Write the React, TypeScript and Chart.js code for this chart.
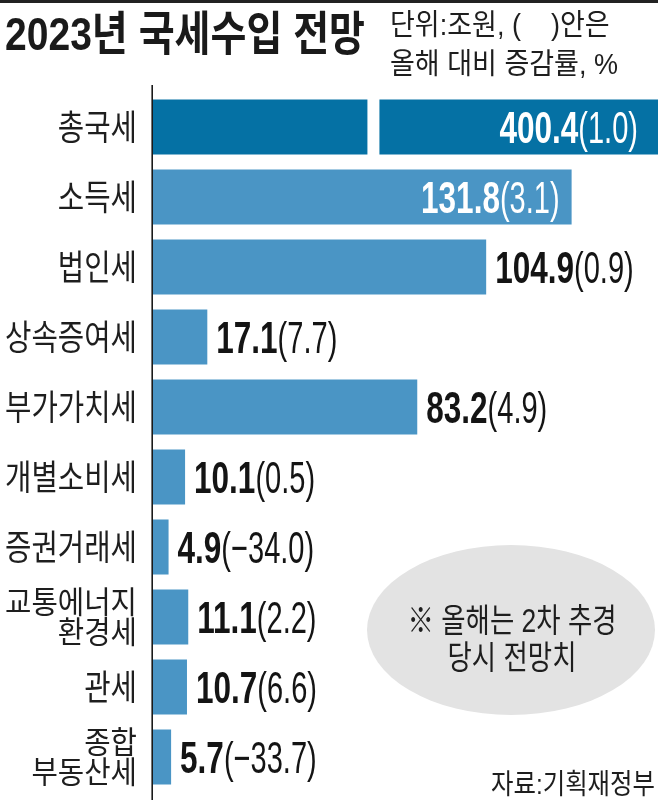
import React, { useEffect, useRef } from "react";
import { Chart, registerables } from "chart.js";

Chart.register(...registerables);

// ---- data ----
const categories: (string | string[])[] = [
  "총국세",
  "소득세",
  "법인세",
  "상속증여세",
  "부가가치세",
  "개별소비세",
  "증권거래세",
  ["교통에너지", "환경세"],
  "관세",
  ["종합", "부동산세"],
];
const values = [400.4, 131.8, 104.9, 17.1, 83.2, 10.1, 4.9, 11.1, 10.7, 5.7];
const changes = [1.0, 3.1, 0.9, 7.7, 4.9, 0.5, -34.0, 2.2, 6.6, -33.7];
const axisMax = 159;
const breakValue = 69.4; // where the (off-scale) total bar is visually broken

const TITLE = "2023년 국세수입 전망";
const UNIT_LINES = ["단위:조원, (    )안은", "올해 대비 증감률, %"];
const NOTE_LINES = ["※ 올해는 2차 추경", "당시 전망치"];
const SOURCE = "자료:기획재정부";

const KR = '"Noto Sans CJK KR", "Noto Sans CJK SC", sans-serif';
const LAT = '"Liberation Sans", Arial';

function measure(ctx: CanvasRenderingContext2D, text: string, font: string) {
  ctx.save();
  ctx.font = font;
  const w = ctx.measureText(text).width;
  ctx.restore();
  return w;
}

function drawScaled(
  ctx: CanvasRenderingContext2D,
  text: string,
  x: number,
  y: number,
  font: string,
  sx: number,
  align: "left" | "right" | "center",
  color: string,
  baseline: CanvasTextBaseline = "alphabetic"
) {
  ctx.save();
  ctx.font = font;
  ctx.fillStyle = color;
  ctx.textAlign = "left";
  ctx.textBaseline = baseline;
  const w = ctx.measureText(text).width * sx;
  const left = align === "left" ? x : align === "right" ? x - w : x - w / 2;
  ctx.translate(left, y);
  ctx.scale(sx, 1);
  ctx.fillText(text, 0, 0);
  ctx.restore();
  return w;
}

const decor = {
  id: "decor",
  beforeDraw(chart: any) {
    const ctx: CanvasRenderingContext2D = chart.ctx;
    ctx.save();
    ctx.fillStyle = "#ffffff";
    ctx.fillRect(0, 0, chart.width, chart.height);
    ctx.fillStyle = "#222222";
    ctx.fillRect(0, 0, chart.width, 3);
    // note ellipse
    ctx.fillStyle = "#e3e3e3";
    ctx.beginPath();
    ctx.ellipse(511, 630, 144, 85, 0, 0, Math.PI * 2);
    ctx.fill();
    ctx.restore();

    // title
    const tFont = `bold 47px ${LAT}, ${KR}`;
    const tScale = 360 / measure(ctx, TITLE, tFont);
    drawScaled(ctx, TITLE, 5, 50, tFont, tScale, "left", "#1a1a1a");

    // unit text
    const uFont = `29px ${LAT}, ${KR}`;
    const uScale = 228 / measure(ctx, UNIT_LINES[1], uFont);
    drawScaled(ctx, UNIT_LINES[0], 390, 35, uFont, uScale, "left", "#1e1e1e");
    drawScaled(ctx, UNIT_LINES[1], 390, 74, uFont, uScale, "left", "#1e1e1e");

    // note text
    const nFont = `33px ${LAT}, ${KR}`;
    const nScale = 209 / measure(ctx, NOTE_LINES[0], nFont);
    drawScaled(ctx, NOTE_LINES[0], 512, 632, nFont, nScale, "center", "#1e1e1e");
    drawScaled(ctx, NOTE_LINES[1], 512, 669, nFont, nScale, "center", "#1e1e1e");

    // source
    const sFont = `28px ${LAT}, ${KR}`;
    const sScale = 164 / measure(ctx, SOURCE, sFont);
    drawScaled(ctx, SOURCE, 655, 794, sFont, sScale, "right", "#1e1e1e");
  },
  afterDatasetsDraw(chart: any) {
    const ctx: CanvasRenderingContext2D = chart.ctx;
    const area = chart.chartArea;
    const xs = chart.scales.x;
    const ys = chart.scales.y;
    const meta = chart.getDatasetMeta(0);

    // break in the off-scale bar
    meta.data.forEach((bar: any, i: number) => {
      if (values[i] > axisMax) {
        const xb = xs.getPixelForValue(breakValue);
        ctx.save();
        ctx.fillStyle = "#ffffff";
        ctx.fillRect(xb - 6, bar.y - bar.height / 2 - 1, 12, bar.height + 2);
        ctx.restore();
      }
    });

    // axis line
    ctx.save();
    ctx.strokeStyle = "#1a1a1a";
    ctx.lineWidth = 1.6;
    ctx.beginPath();
    ctx.moveTo(area.left - 0.8, 85);
    ctx.lineTo(area.left - 0.8, chart.height);
    ctx.stroke();
    ctx.restore();

    // category labels
    const cFont1 = `35px ${KR}`;
    const cFont2 = `31px ${KR}`;
    const s1 = 132 / measure(ctx, "상속증여세", cFont1);
    const s2 = 132 / measure(ctx, "교통에너지", cFont2);
    categories.forEach((c, i) => {
      const yc = ys.getPixelForValue(i);
      const lines = Array.isArray(c) ? c : [c];
      if (lines.length === 1) {
        drawScaled(ctx, lines[0], 137, yc, cFont1, s1, "right", "#1e1e1e", "middle");
      } else {
        const lh = 29.5;
        lines.forEach((ln, k) => {
          const y = yc - 1 + (k - (lines.length - 1) / 2) * lh;
          drawScaled(ctx, ln, 137, y, cFont2, s2, "right", "#1e1e1e", "middle");
        });
      }
    });

    // value labels
    const numFont = `bold 45px ${LAT}, sans-serif`;
    const chFont = `44px ${LAT}, sans-serif`;
    const numS = 0.7;
    const chS = 0.66;
    meta.data.forEach((bar: any, i: number) => {
      const numText = values[i].toFixed(1);
      const ch = changes[i];
      const chText = "(" + (ch < 0 ? "\u2212" : "") + Math.abs(ch).toFixed(1) + ")";
      const wn = measure(ctx, numText, numFont) * numS;
      const wc = measure(ctx, chText, chFont) * chS;
      const clipped = bar.x > area.right;
      const end = Math.min(bar.x, area.right);
      const inside = end - area.left > 350;
      const baseline = bar.y + 16;
      let x: number;
      let color: string;
      if (inside) {
        x = end - (clipped ? 20 : 12) - wn - wc;
        color = "#ffffff";
      } else {
        x = end + 9;
        color = "#141414";
      }
      drawScaled(ctx, numText, x, baseline, numFont, numS, "left", color);
      drawScaled(ctx, chText, x + wn, baseline, chFont, chS, "left", color);
    });
  },
};

export default function App() {
  const canvasRef = useRef<HTMLCanvasElement | null>(null);

  useEffect(() => {
    document.body.style.margin = "0";
    const canvas = canvasRef.current;
    if (!canvas) return;
    const chart = new Chart(canvas, {
      type: "bar",
      data: {
        labels: categories as any,
        datasets: [
          {
            data: values,
            backgroundColor: values.map((v) => (v > axisMax ? "#0571a4" : "#4a95c5")),
            borderWidth: 0,
            barPercentage: 0.786,
            categoryPercentage: 1,
          },
        ],
      },
      options: {
        indexAxis: "y",
        responsive: false,
        animation: false,
        layout: { padding: { top: 92, bottom: 8, left: 0, right: 0 } },
        plugins: {
          legend: { display: false },
          tooltip: { enabled: false },
        },
        scales: {
          x: { display: false, min: 0, max: axisMax },
          y: {
            grid: { display: false },
            border: { display: false },
            ticks: { display: false },
            afterFit: (s: any) => {
              s.width = 153;
            },
          },
        },
      },
      plugins: [decor],
    });
    return () => chart.destroy();
  }, []);

  return (
    <div style={{ width: 658, height: 800 }}>
      <canvas ref={canvasRef} width={658} height={800} style={{ display: "block" }} />
    </div>
  );
}
